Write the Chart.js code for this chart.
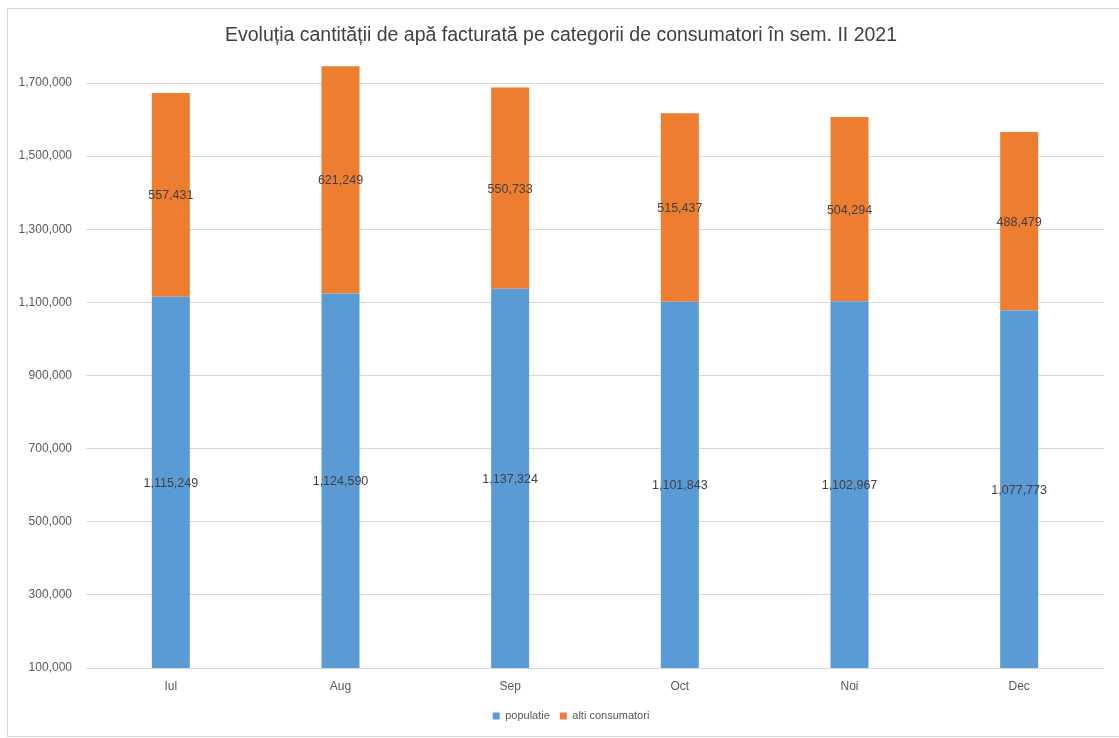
<!DOCTYPE html>
<html>
<head>
<meta charset="utf-8">
<title>Evoluția cantității de apă facturată</title>
<script src="https://cdn.jsdelivr.net/npm/chart.js@4.4.1/dist/chart.umd.min.js"></script>
<style>
    body { margin: 0; background: #fff; }
    #wrap { width: 1119px; height: 738px; }
</style>
</head>
<body>
<div id="wrap">
    <canvas id="waterChart" width="1119" height="738"></canvas>
</div>
<script>
// Monthly billed water volume, second half of 2021
const months = ['Iul', 'Aug', 'Sep', 'Oct', 'Noi', 'Dec'];
const populatie = [1115249, 1124590, 1137324, 1101843, 1102967, 1077773];
const altiConsumatori = [557431, 621249, 550733, 515437, 504294, 488479];
const yTicks = [100000, 300000, 500000, 700000, 900000, 1100000, 1300000, 1500000, 1700000];

const FONT = '"Liberation Sans", Arial, sans-serif';

function formatNumber(v) {
    return v.toLocaleString('en-US');
}

// White background and the light frame around the chart
const frame = {
    id: 'frame',
    beforeDraw(chart) {
        const ctx = chart.ctx;
        ctx.save();
        ctx.fillStyle = '#ffffff';
        ctx.fillRect(0, 0, chart.width, chart.height);
        ctx.strokeStyle = '#d9d9d9';
        ctx.lineWidth = 1;
        ctx.strokeRect(7.5, 8.5, 1130, 728);
        ctx.restore();
    }
};

// Nudge the legend a little to the right of the canvas center
const legendOffset = {
    id: 'legendOffset',
    afterLayout(chart) {
        if (chart.legend) {
            chart.legend.left += 10;
            chart.legend.right += 10;
        }
    }
};

// Value labels centered on the visible part of each segment
const segmentLabels = {
    id: 'segmentLabels',
    afterDatasetsDraw(chart) {
        const ctx = chart.ctx;
        const area = chart.chartArea;
        ctx.save();
        ctx.font = '12.5px ' + FONT;
        ctx.fillStyle = '#404040';
        ctx.textAlign = 'center';
        ctx.textBaseline = 'middle';
        chart.data.datasets.forEach((ds, i) => {
            const meta = chart.getDatasetMeta(i);
            meta.data.forEach((bar, j) => {
                const p = bar.getProps(['x', 'y', 'base'], true);
                const bottom = Math.min(p.base, area.bottom);
                ctx.fillText(formatNumber(ds.data[j]), p.x, (p.y + bottom) / 2 + 1);
            });
        });
        ctx.restore();
    }
};

new Chart(document.getElementById('waterChart'), {
    type: 'bar',
    data: {
        labels: months,
        datasets: [{
            label: 'populatie',
            data: populatie,
            backgroundColor: '#5b9bd5',
            barPercentage: 0.224,
            categoryPercentage: 1
        }, {
            label: 'alti consumatori',
            data: altiConsumatori,
            backgroundColor: '#ed7d31',
            barPercentage: 0.224,
            categoryPercentage: 1
        }]
    },
    options: {
        responsive: false,
        animation: false,
        layout: {
            padding: { left: 18, right: 15, top: 0, bottom: 6.5 }
        },
        plugins: {
            title: {
                display: true,
                text: 'Evoluția cantității de apă facturată pe categorii de consumatori în sem. II 2021',
                color: '#404040',
                font: { family: FONT, size: 19.5, weight: 'normal', lineHeight: 1 },
                padding: { top: 25.5, bottom: 1.5 }
            },
            legend: {
                position: 'bottom',
                labels: {
                    boxWidth: 7,
                    boxHeight: 7,
                    padding: 10,
                    color: '#595959',
                    font: { family: FONT, size: 11 }
                }
            },
            tooltip: { enabled: false }
        },
        scales: {
            x: {
                stacked: true,
                afterFit(scale) {
                    scale.height = 32.5;
                },
                grid: { display: false, drawTicks: false },
                border: { display: false },
                ticks: {
                    color: '#595959',
                    padding: 11,
                    font: { family: FONT, size: 12 }
                }
            },
            y: {
                stacked: true,
                min: 100000,
                max: 1800000,
                afterBuildTicks(scale) {
                    scale.ticks = yTicks.map(v => ({ value: v }));
                },
                afterFit(scale) {
                    scale.width = 68;
                },
                grid: { color: '#d9d9d9', drawTicks: false },
                border: { display: false },
                ticks: {
                    color: '#595959',
                    padding: 14,
                    font: { family: FONT, size: 12 },
                    callback: v => formatNumber(v)
                }
            }
        }
    },
    plugins: [frame, legendOffset, segmentLabels]
});
</script>
</body>
</html>
